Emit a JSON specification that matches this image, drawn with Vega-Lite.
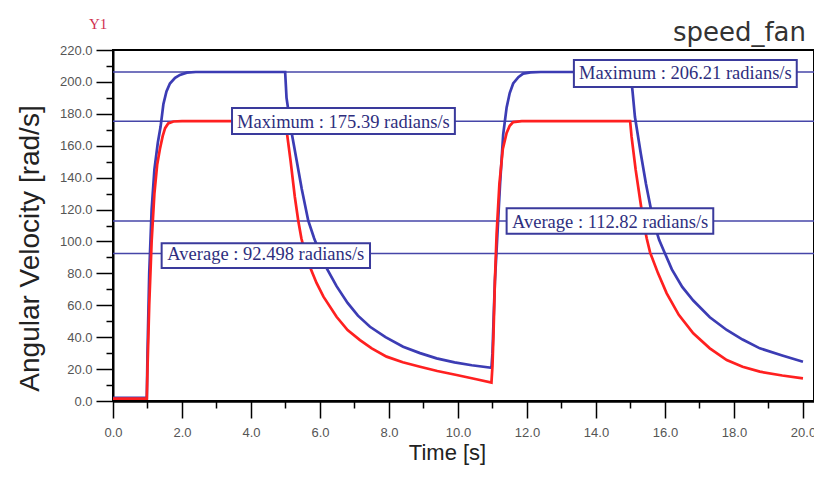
{
  "$schema": "https://vega.github.io/schema/vega-lite/v6.json",
  "width": 701,
  "height": 351,
  "autosize": "none",
  "padding": {"left": 113, "top": 50, "right": 0, "bottom": 81},
  "background": "white",
  "config": {
    "view": {"stroke": "black", "strokeWidth": 2}
  },
  "title": {
    "text": "speed_fan",
    "anchor": "end",
    "frame": "group",
    "font": "DejaVu Sans",
    "fontSize": 26,
    "fontWeight": "normal",
    "color": "#333333",
    "offset": 7,
    "dx": -8,
    "dy": 36
  },
  "datasets": {
    "curves": [
      {"t": 0, "v": 2, "series": "speed_fan (blue)"},
      {"t": 0.98, "v": 2, "series": "speed_fan (blue)"},
      {"t": 1.0, "v": 30, "series": "speed_fan (blue)"},
      {"t": 1.05, "v": 80, "series": "speed_fan (blue)"},
      {"t": 1.12, "v": 120, "series": "speed_fan (blue)"},
      {"t": 1.2, "v": 145, "series": "speed_fan (blue)"},
      {"t": 1.3, "v": 162, "series": "speed_fan (blue)"},
      {"t": 1.38, "v": 172, "series": "speed_fan (blue)"},
      {"t": 1.46, "v": 186, "series": "speed_fan (blue)"},
      {"t": 1.55, "v": 194, "series": "speed_fan (blue)"},
      {"t": 1.65, "v": 199, "series": "speed_fan (blue)"},
      {"t": 1.8, "v": 202.5, "series": "speed_fan (blue)"},
      {"t": 1.94, "v": 204.4, "series": "speed_fan (blue)"},
      {"t": 2.14, "v": 205.8, "series": "speed_fan (blue)"},
      {"t": 2.4, "v": 206.21, "series": "speed_fan (blue)"},
      {"t": 4.99, "v": 206.21, "series": "speed_fan (blue)"},
      {"t": 5.03, "v": 190, "series": "speed_fan (blue)"},
      {"t": 5.18, "v": 168, "series": "speed_fan (blue)"},
      {"t": 5.33, "v": 150, "series": "speed_fan (blue)"},
      {"t": 5.47, "v": 133, "series": "speed_fan (blue)"},
      {"t": 5.66, "v": 113, "series": "speed_fan (blue)"},
      {"t": 5.83, "v": 102, "series": "speed_fan (blue)"},
      {"t": 6.0, "v": 92.5, "series": "speed_fan (blue)"},
      {"t": 6.2, "v": 83, "series": "speed_fan (blue)"},
      {"t": 6.48, "v": 72, "series": "speed_fan (blue)"},
      {"t": 6.8, "v": 61.5, "series": "speed_fan (blue)"},
      {"t": 7.1, "v": 53.5, "series": "speed_fan (blue)"},
      {"t": 7.45, "v": 46.5, "series": "speed_fan (blue)"},
      {"t": 7.9, "v": 40, "series": "speed_fan (blue)"},
      {"t": 8.41, "v": 34, "series": "speed_fan (blue)"},
      {"t": 8.9, "v": 30, "series": "speed_fan (blue)"},
      {"t": 9.38, "v": 26.7, "series": "speed_fan (blue)"},
      {"t": 9.9, "v": 24.2, "series": "speed_fan (blue)"},
      {"t": 10.4, "v": 22.4, "series": "speed_fan (blue)"},
      {"t": 10.97, "v": 20.8, "series": "speed_fan (blue)"},
      {"t": 11.0, "v": 30, "series": "speed_fan (blue)"},
      {"t": 11.03, "v": 50, "series": "speed_fan (blue)"},
      {"t": 11.07, "v": 75, "series": "speed_fan (blue)"},
      {"t": 11.12, "v": 95, "series": "speed_fan (blue)"},
      {"t": 11.22, "v": 136, "series": "speed_fan (blue)"},
      {"t": 11.31, "v": 167, "series": "speed_fan (blue)"},
      {"t": 11.41, "v": 184, "series": "speed_fan (blue)"},
      {"t": 11.5, "v": 193, "series": "speed_fan (blue)"},
      {"t": 11.6, "v": 199, "series": "speed_fan (blue)"},
      {"t": 11.75, "v": 203, "series": "speed_fan (blue)"},
      {"t": 11.89, "v": 205.2, "series": "speed_fan (blue)"},
      {"t": 12.1, "v": 206, "series": "speed_fan (blue)"},
      {"t": 12.4, "v": 206.21, "series": "speed_fan (blue)"},
      {"t": 15.0, "v": 206.21, "series": "speed_fan (blue)"},
      {"t": 15.06, "v": 194, "series": "speed_fan (blue)"},
      {"t": 15.13, "v": 178, "series": "speed_fan (blue)"},
      {"t": 15.3, "v": 155, "series": "speed_fan (blue)"},
      {"t": 15.45, "v": 136, "series": "speed_fan (blue)"},
      {"t": 15.66, "v": 113, "series": "speed_fan (blue)"},
      {"t": 15.83, "v": 101, "series": "speed_fan (blue)"},
      {"t": 16.0, "v": 92.5, "series": "speed_fan (blue)"},
      {"t": 16.2, "v": 82.5, "series": "speed_fan (blue)"},
      {"t": 16.5, "v": 71.5, "series": "speed_fan (blue)"},
      {"t": 16.82, "v": 63, "series": "speed_fan (blue)"},
      {"t": 17.3, "v": 52.5, "series": "speed_fan (blue)"},
      {"t": 17.79, "v": 44.5, "series": "speed_fan (blue)"},
      {"t": 18.25, "v": 38.5, "series": "speed_fan (blue)"},
      {"t": 18.75, "v": 33, "series": "speed_fan (blue)"},
      {"t": 19.4, "v": 28.5, "series": "speed_fan (blue)"},
      {"t": 20.0, "v": 24.6, "series": "speed_fan (blue)"},

      {"t": 0, "v": 1.5, "series": "speed_fan (red)"},
      {"t": 0.98, "v": 1.5, "series": "speed_fan (red)"},
      {"t": 1.0, "v": 20, "series": "speed_fan (red)"},
      {"t": 1.05, "v": 60, "series": "speed_fan (red)"},
      {"t": 1.12, "v": 100, "series": "speed_fan (red)"},
      {"t": 1.2, "v": 130, "series": "speed_fan (red)"},
      {"t": 1.28, "v": 148, "series": "speed_fan (red)"},
      {"t": 1.36, "v": 158, "series": "speed_fan (red)"},
      {"t": 1.44, "v": 166, "series": "speed_fan (red)"},
      {"t": 1.51, "v": 171, "series": "speed_fan (red)"},
      {"t": 1.6, "v": 174, "series": "speed_fan (red)"},
      {"t": 1.75, "v": 175.2, "series": "speed_fan (red)"},
      {"t": 2.0, "v": 175.39, "series": "speed_fan (red)"},
      {"t": 4.99, "v": 175.39, "series": "speed_fan (red)"},
      {"t": 5.03, "v": 170, "series": "speed_fan (red)"},
      {"t": 5.15, "v": 150, "series": "speed_fan (red)"},
      {"t": 5.27, "v": 128, "series": "speed_fan (red)"},
      {"t": 5.37, "v": 113, "series": "speed_fan (red)"},
      {"t": 5.46, "v": 102, "series": "speed_fan (red)"},
      {"t": 5.57, "v": 92.5, "series": "speed_fan (red)"},
      {"t": 5.71, "v": 84, "series": "speed_fan (red)"},
      {"t": 5.9, "v": 74, "series": "speed_fan (red)"},
      {"t": 6.1, "v": 65.4, "series": "speed_fan (red)"},
      {"t": 6.48, "v": 52.8, "series": "speed_fan (red)"},
      {"t": 6.8, "v": 44.5, "series": "speed_fan (red)"},
      {"t": 7.16, "v": 38.2, "series": "speed_fan (red)"},
      {"t": 7.5, "v": 33, "series": "speed_fan (red)"},
      {"t": 7.93, "v": 27.8, "series": "speed_fan (red)"},
      {"t": 8.4, "v": 24.3, "series": "speed_fan (red)"},
      {"t": 8.9, "v": 21.5, "series": "speed_fan (red)"},
      {"t": 9.4, "v": 18.8, "series": "speed_fan (red)"},
      {"t": 9.96, "v": 16.3, "series": "speed_fan (red)"},
      {"t": 10.5, "v": 13.8, "series": "speed_fan (red)"},
      {"t": 10.97, "v": 11.5, "series": "speed_fan (red)"},
      {"t": 11.0, "v": 22, "series": "speed_fan (red)"},
      {"t": 11.03, "v": 42, "series": "speed_fan (red)"},
      {"t": 11.07, "v": 75, "series": "speed_fan (red)"},
      {"t": 11.12, "v": 105, "series": "speed_fan (red)"},
      {"t": 11.2, "v": 136, "series": "speed_fan (red)"},
      {"t": 11.3, "v": 158, "series": "speed_fan (red)"},
      {"t": 11.41, "v": 168, "series": "speed_fan (red)"},
      {"t": 11.5, "v": 172.5, "series": "speed_fan (red)"},
      {"t": 11.6, "v": 174.8, "series": "speed_fan (red)"},
      {"t": 11.85, "v": 175.39, "series": "speed_fan (red)"},
      {"t": 14.99, "v": 175.39, "series": "speed_fan (red)"},
      {"t": 15.03, "v": 166, "series": "speed_fan (red)"},
      {"t": 15.15, "v": 145, "series": "speed_fan (red)"},
      {"t": 15.28, "v": 126, "series": "speed_fan (red)"},
      {"t": 15.37, "v": 113, "series": "speed_fan (red)"},
      {"t": 15.47, "v": 102, "series": "speed_fan (red)"},
      {"t": 15.57, "v": 93, "series": "speed_fan (red)"},
      {"t": 15.8, "v": 80, "series": "speed_fan (red)"},
      {"t": 16.05, "v": 67.5, "series": "speed_fan (red)"},
      {"t": 16.4, "v": 54, "series": "speed_fan (red)"},
      {"t": 16.82, "v": 42.4, "series": "speed_fan (red)"},
      {"t": 17.3, "v": 33, "series": "speed_fan (red)"},
      {"t": 17.79, "v": 25.7, "series": "speed_fan (red)"},
      {"t": 18.25, "v": 21.5, "series": "speed_fan (red)"},
      {"t": 18.75, "v": 18.4, "series": "speed_fan (red)"},
      {"t": 19.4, "v": 16, "series": "speed_fan (red)"},
      {"t": 20.0, "v": 14.2, "series": "speed_fan (red)"}
    ],
    "reflines": [
      {"v": 206.21},
      {"v": 175.39},
      {"v": 112.82},
      {"v": 92.498}
    ],
    "labels": [
      {"label": "Maximum : 175.39 radians/s", "v": 175.39, "tc": 6.68, "t0": 3.45, "t1": 9.91, "lo": 167.3, "hi": 183.6},
      {"label": "Average : 92.498 radians/s", "v": 92.498, "tc": 4.43, "t0": 1.41, "t1": 7.45, "lo": 83.4, "hi": 98.8},
      {"label": "Average : 112.82 radians/s", "v": 112.82, "tc": 14.41, "t0": 11.41, "t1": 17.4, "lo": 104.9, "hi": 120.8},
      {"label": "Maximum : 206.21 radians/s", "v": 206.21, "tc": 16.59, "t0": 13.36, "t1": 19.82, "lo": 196.8, "hi": 213.7}
    ],
    "ylabel": [
      {"label": "Y1", "t": -0.43, "v": 236.3}
    ]
  },
  "encoding": {
    "x": {
      "field": "t", "type": "quantitative",
      "scale": {"domain": [0, 20.32], "nice": false, "zero": false},
      "axis": {
        "title": "Time [s]",
        "values": [0,1,2,3,4,5,6,7,8,9,10,11,12,13,14,15,16,17,18,19,20],
        "labelExpr": "datum.value % 2 === 0 ? format(datum.value, '.1f') : ''",
        "tickSize": {"condition": {"test": "datum.value % 2 === 0", "value": 17}, "value": 7},
        "tickColor": "black",
        "tickWidth": 1.5,
        "domainColor": "black",
        "domainWidth": 2.5,
        "labelFont": "Liberation Sans",
        "labelFontSize": 13,
        "labelColor": "#555555",
        "labelPadding": 8,
        "labelFlush": false,
        "labelOverlap": false,
        "grid": false,
        "titleFont": "Liberation Sans",
        "titleFontSize": 22,
        "titleFontWeight": "normal",
        "titleColor": "#222222",
        "titlePadding": 3,
        "titleX": 334
      }
    },
    "y": {
      "field": "v", "type": "quantitative",
      "scale": {"domain": [0, 220], "nice": false},
      "axis": {
        "title": "Angular Velocity [rad/s]",
        "values": [0,10,20,30,40,50,60,70,80,90,100,110,120,130,140,150,160,170,180,190,200,210,220],
        "labelExpr": "datum.value % 20 === 0 ? format(datum.value, '.1f') : ''",
        "tickSize": {"condition": {"test": "datum.value % 20 === 0", "value": 17}, "value": 7},
        "tickColor": "black",
        "tickWidth": 1.5,
        "domainColor": "black",
        "domainWidth": 2,
        "labelFont": "Liberation Sans",
        "labelFontSize": 13,
        "labelColor": "#555555",
        "labelPadding": 4,
        "labelOverlap": false,
        "labelFlush": false,
        "grid": false,
        "titleFont": "Liberation Sans",
        "titleFontSize": 28,
        "titleFontWeight": "normal",
        "titleColor": "#222222",
        "titlePadding": 15,
        "titleY": 198
      }
    }
  },
  "layer": [
    {
      "data": {"name": "reflines"},
      "mark": {"type": "rule", "color": "#4646a8", "strokeWidth": 1.5},
      "encoding": {
        "x": null
      }
    },
    {
      "data": {"name": "curves"},
      "mark": {"type": "line", "strokeWidth": 2.7, "clip": true},
      "encoding": {
        "color": {
          "field": "series", "type": "nominal",
          "scale": {"domain": ["speed_fan (blue)", "speed_fan (red)"], "range": ["#3c3cb4", "#ff2020"]},
          "legend": null
        }
      }
    },
    {
      "data": {"name": "labels"},
      "mark": {"type": "rect", "fill": "white", "stroke": "#3a3a9c", "strokeWidth": 2},
      "encoding": {
        "x": {"field": "t0", "type": "quantitative", "title": "Time [s]"},
        "x2": {"field": "t1"},
        "y": {"field": "lo", "type": "quantitative", "title": "Angular Velocity [rad/s]"},
        "y2": {"field": "hi"}
      }
    },
    {
      "data": {"name": "labels"},
      "mark": {"type": "text", "font": "Liberation Serif", "fontSize": 18.5, "color": "#2e2e7e", "baseline": "middle", "align": "center", "dy": 1},
      "encoding": {
        "x": {"field": "tc", "type": "quantitative", "title": "Time [s]"},
        "text": {"field": "label"}
      }
    },
    {
      "data": {"name": "ylabel"},
      "mark": {"type": "text", "font": "Liberation Serif", "fontSize": 15, "color": "#d03050", "baseline": "middle", "align": "center"},
      "encoding": {
        "text": {"field": "label"}
      }
    }
  ]
}
